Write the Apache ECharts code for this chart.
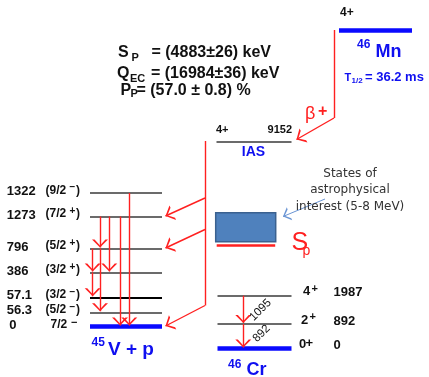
<!DOCTYPE html>
<html><head><meta charset="utf-8">
<script src="https://cdn.jsdelivr.net/npm/echarts@6/dist/echarts.min.js"></script>
<style>html,body{margin:0;padding:0;background:#fff}#c{width:429px;height:377px}</style>
</head><body><div id="c"></div>
<script>
// ================= DATA =================
const spValue = '4883±26';          // keV
const qecValue = '16984±36';        // keV
const ppValue = '57.0 ± 0.8';       // %
const mnSpin = '4+';
const mnHalfLife = '36.2 ms';
const iasSpin = '4+';
const iasEnergy = '9152';
const vLevelEnergy = ['1322', '1273', '796', '386', '57.1', '56.3', '0'];
const vLevelJ = ['9/2', '7/2', '5/2', '3/2', '3/2', '5/2', '7/2'];
const vLevelParity = ['−', '+', '+', '+', '−', '−', '−'];
const vGammas = [[1, 2], [2, 5], [1, 3], [2, 3], [3, 4], [1, 6], [0, 6]]; // [from, to] level index
const vProtonFeeds = [1, 2, 6];     // 45V levels fed by proton emission
const crLevelEnergy = ['1987', '892', '0'];
const crLevelJ = ['4', '2', '0'];
const crGammas = [[0, 1], [1, 2]];
const crGammaLabels = ['1095', '892'];
const astroNote = ['States of', 'astrophysical', 'interest (5-8 MeV)'];
const astroBandMeV = [5, 8];

// ================= LAYOUT (schematic, in the hidden axes' units) =================
const vLevelY = [193, 216.5, 248.5, 272.5, 297.3, 312.3, 326.5];
const vLevelX = [90, 162];
const vGammaX = [100, 100, 109.3, 92.7, 92.7, 120, 129.3];
const crLevelY = [295.7, 324, 348.5];
const crLevelX = [217.5, 291.5];
const crGammaX = 243.3;
const mnLevel = { x: [339, 412], y: 30 };
const iasLevel = { x: [216.5, 291.5], y: 141.5 };
const feedX = 205;
const feedBranchY = [198, 229.5, 305.5];
const bandBox = [215.7, 212.7, 275.7, 241.7];
const spLineY = 245;

const RED = '#ff2020', BLUE = '#0f0ff0', DARK = '#111', FONT = '"Liberation Sans", Arial, sans-serif';
const ARROW = 'path://M5,10 L0,20 L1.6,20 L5,12.6 L8.4,20 L10,20 Z M5,0 L5.01,0 Z';

// ----- line marks -----
const levelLines = [];
vLevelY.forEach((y, i) => { if (i < vLevelY.length - 1) levelLines.push({ coords: [[vLevelX[0], y], [vLevelX[1], y]], lineStyle: i === 4 ? { color: '#000', width: 2 } : undefined }); });
crLevelY.forEach((y, i) => { if (i < crLevelY.length - 1) levelLines.push({ coords: [[crLevelX[0], y], [crLevelX[1], y]] }); });
levelLines.push({ coords: [[iasLevel.x[0], iasLevel.y], [iasLevel.x[1], iasLevel.y]] });

const groundLines = [
  { coords: [[vLevelX[0], vLevelY[6]], [vLevelX[1], vLevelY[6]]] },
  { coords: [[crLevelX[0], crLevelY[2]], [crLevelX[1], crLevelY[2]]] },
  { coords: [[mnLevel.x[0], mnLevel.y], [mnLevel.x[1], mnLevel.y]] }
];

const redPlain = [
  { coords: [[334, mnLevel.y], [334, 118]] },
  { coords: [[feedX, iasLevel.y - 0.5], [feedX, feedBranchY[2]]] }
];
const redArrows = [
  { coords: [[334, 118], [iasLevel.x[1] + 5, iasLevel.y - 2]] }
];
vProtonFeeds.forEach((lv, k) => {
  redArrows.push({ coords: [[feedX, feedBranchY[k]], [vLevelX[1] + 3.5, vLevelY[lv] - 0.5]] });
});
vGammas.forEach((g, k) => {
  redArrows.push({ coords: [[vGammaX[k], vLevelY[g[0]]], [vGammaX[k], vLevelY[g[1]] - 1]] });
});
crGammas.forEach(g => {
  redArrows.push({ coords: [[crGammaX, crLevelY[g[0]]], [crGammaX, crLevelY[g[1]] - 1]] });
});

// ----- text marks -----
function T(x, y, text, o) {
  o = o || {};
  return {
    value: [x, y],
    label: {
      show: true, position: 'inside', formatter: text,
      align: o.align || 'left', verticalAlign: 'middle',
      fontFamily: o.family || FONT, fontSize: o.size || 12,
      fontWeight: o.weight || 'bold', color: o.color || DARK,
      textBorderWidth: 0, textBorderColor: 'transparent', textShadowBlur: 0,
      opacity: 1, rotate: o.rotate || 0
    }
  };
}
const texts = [];
// header formulas
texts.push(T(118, 52.5, 'S', { size: 16 }), T(131.5, 57.5, 'P', { size: 11 }), T(151.5, 52.5, '= (' + spValue + ') keV', { size: 16 }));
texts.push(T(117, 73.5, 'Q', { size: 16 }), T(130, 78.5, 'EC', { size: 11 }), T(151, 73.5, '= (' + qecValue + ') keV', { size: 16 }));
texts.push(T(120.5, 90.5, 'P', { size: 16 }), T(130.5, 94, 'P', { size: 11 }), T(136.5, 90.5, '= (' + ppValue + ') %', { size: 16 }));
// 46Mn
texts.push(T(340, 12.5, mnSpin, { size: 12 }));
texts.push(T(357, 45, '46', { size: 12, color: BLUE }), T(375.5, 52, 'Mn', { size: 18, color: BLUE }));
texts.push(T(344.5, 77.5, 'T', { size: 11, color: BLUE }), T(351.5, 81, '1/2', { size: 8, color: BLUE }), T(365, 77.5, '= ' + mnHalfLife, { size: 13, color: BLUE }));
texts.push(T(305, 114.5, 'β', { size: 18, weight: 'normal', color: RED }), T(318, 111.5, '+', { size: 16, color: RED }));
// IAS
texts.push(T(216, 130, iasSpin, { size: 11 }), T(292, 130, iasEnergy, { size: 11, align: 'right' }), T(253.5, 152, 'IAS', { size: 14, color: BLUE, align: 'center' }));
// note
astroNote.forEach((s, i) => texts.push(T(350, 173.5 + i * 16.5, s, { size: 12, weight: 'normal', color: '#333', align: 'center', family: '"DejaVu Sans", sans-serif' })));
// Sp
texts.push(T(291.5, 243, 'S', { size: 25, weight: 'normal', color: RED }), T(302.5, 251.5, 'p', { size: 14, weight: 'normal', color: RED }));
// 45V levels
vLevelEnergy.forEach((e, i) => {
  const y = vLevelY[i] - 1.5;
  const last = i === vLevelEnergy.length - 1;
  texts.push(T(last ? 9.3 : 6.7, y, e, { size: 13 }));
  if (last) {
    texts.push(T(50.5, y, vLevelJ[i], { size: 12 }), T(71, y - 2, vLevelParity[i], { size: 11 }));
  } else {
    texts.push(T(45.5, y - 1, '(' + vLevelJ[i], { size: 12 }), T(69.5, y - 4, vLevelParity[i], { size: 10 }), T(76, y - 1, ')', { size: 12 }));
  }
});
texts.push(T(91.5, 342.5, '45', { size: 12, color: BLUE }), T(108, 350, 'V + p', { size: 19, color: BLUE }));
// 46Cr levels
const crJx = [303, 301, 299];
crLevelEnergy.forEach((e, i) => {
  const y = crLevelY[i] - 4;
  texts.push(T(crJx[i], y, crLevelJ[i], { size: 13 }));
  texts.push(T(crJx[i] + (i === 2 ? 6.5 : 8.5), y - (i === 2 ? 1 : 3), '+', { size: i === 2 ? 13 : 11 }));
  texts.push(T(333.5, y + 1, e, { size: 13 }));
});
texts.push(T(260.5, 310, crGammaLabels[0], { size: 11.5, weight: 'normal', align: 'center', rotate: 45 }));
texts.push(T(261.5, 333.5, crGammaLabels[1], { size: 11.5, weight: 'normal', align: 'center', rotate: 45 }));
texts.push(T(228, 364.5, '46', { size: 12, color: BLUE }), T(246.5, 370.5, 'Cr', { size: 18, color: BLUE }));

const chart = echarts.init(document.getElementById('c'), null, { renderer: 'canvas' });
chart.setOption({
  animation: false,
  backgroundColor: '#fff',
  grid: { left: 0, right: 0, top: 0, bottom: 0 },
  xAxis: { type: 'value', min: 0, max: 429, show: false },
  yAxis: { type: 'value', min: 0, max: 377, inverse: true, show: false },
  series: [
    {
      type: 'custom', silent: true,
      data: [bandBox.concat(astroBandMeV)],
      renderItem: function (params, api) {
        const p0 = api.coord([api.value(0), api.value(1)]);
        const p1 = api.coord([api.value(2), api.value(3)]);
        return { type: 'rect', shape: { x: p0[0], y: p0[1], width: p1[0] - p0[0], height: p1[1] - p0[1] }, style: { fill: '#4f81bd', stroke: '#3b618f', lineWidth: 1.5 } };
      }
    },
    { type: 'lines', coordinateSystem: 'cartesian2d', silent: true, lineStyle: { color: '#3a3a3a', width: 1.5, opacity: 1 }, data: levelLines },
    { type: 'lines', coordinateSystem: 'cartesian2d', silent: true, lineStyle: { color: '#0a0aff', width: 4.5, opacity: 1 }, data: groundLines },
    { type: 'lines', coordinateSystem: 'cartesian2d', silent: true, lineStyle: { color: RED, width: 2.5, opacity: 1 }, data: [{ coords: [[bandBox[0] + 1, spLineY], [bandBox[2] - 0.5, spLineY]] }] },
    { type: 'lines', coordinateSystem: 'cartesian2d', silent: true, lineStyle: { color: RED, width: 1.4, opacity: 1 }, data: redPlain },
    { type: 'lines', coordinateSystem: 'cartesian2d', silent: true, symbol: ['none', ARROW], symbolSize: [5.5, 16], lineStyle: { color: RED, width: 1.4, opacity: 1 }, data: redArrows },
    { type: 'lines', coordinateSystem: 'cartesian2d', silent: true, symbol: ['none', ARROW], symbolSize: [6, 14], lineStyle: { color: '#6a95d4', width: 1, opacity: 1 }, data: [{ coords: [[325, 199], [283, 216.5]] }] },
    { type: 'scatter', silent: true, symbolSize: 0, itemStyle: { color: '#000', opacity: 1 }, data: texts }
  ]
});
</script></body></html>
